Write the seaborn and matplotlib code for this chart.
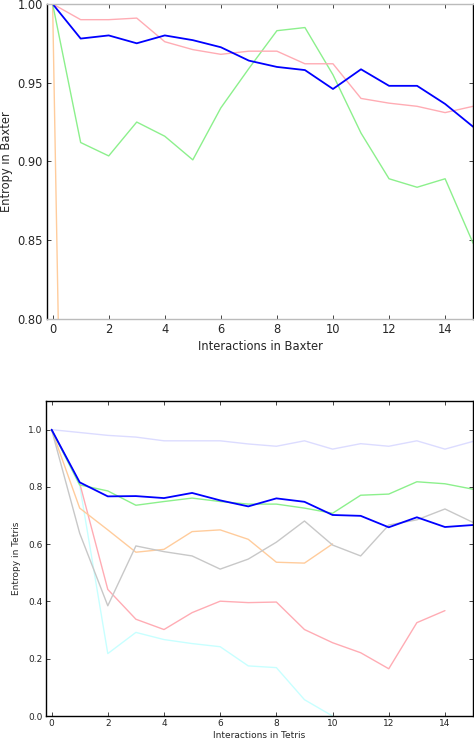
import numpy as np
import pandas as pd
import matplotlib
matplotlib.use("Agg")
import matplotlib.pyplot as plt
import seaborn as sns

# ===================== data =====================
# Baxter (top panel)
baxter_x = list(range(16))
baxter_blue = [1.000, 0.978, 0.980, 0.975, 0.980, 0.977, 0.9725, 0.964, 0.960,
               0.958, 0.946, 0.9585, 0.948, 0.948, 0.9365, 0.922]
baxter_pink = [1.000, 0.990, 0.990, 0.991, 0.976, 0.971, 0.968, 0.970, 0.970,
               0.962, 0.962, 0.940, 0.937, 0.935, 0.931, 0.935]
baxter_green = [1.000, 0.912, 0.9035, 0.925, 0.916, 0.901, 0.934, 0.959, 0.983,
                0.985, 0.955, 0.918, 0.889, 0.8836, 0.889, 0.848]
baxter_orange_x = [0, 1]
baxter_orange = [1.000, 0.000]

# Tetris (bottom panel)
tetris_x = list(range(16))
tetris_lavender = [1.000, 0.990, 0.980, 0.974, 0.961, 0.961, 0.961, 0.950, 0.942,
                   0.961, 0.932, 0.951, 0.942, 0.961, 0.932, 0.959]
tetris_green = [1.000, 0.807, 0.786, 0.736, 0.749, 0.761, 0.749, 0.740, 0.740,
                0.726, 0.708, 0.771, 0.775, 0.818, 0.811, 0.792]
tetris_blue = [1.000, 0.816, 0.767, 0.768, 0.761, 0.779, 0.753, 0.732, 0.760,
               0.748, 0.702, 0.699, 0.659, 0.694, 0.660, 0.667]
tetris_grey = [1.000, 0.638, 0.385, 0.594, 0.574, 0.559, 0.513, 0.548, 0.607,
               0.681, 0.597, 0.559, 0.667, 0.685, 0.723, 0.676]
tetris_orange_x = list(range(11))
tetris_orange = [1.000, 0.726, 0.650, 0.572, 0.582, 0.644, 0.650, 0.617, 0.537,
                 0.534, 0.601]
tetris_red_x = list(range(15))
tetris_red = [1.000, 0.813, 0.442, 0.338, 0.302, 0.361, 0.401, 0.396, 0.398,
              0.302, 0.256, 0.221, 0.165, 0.326, 0.368]
tetris_cyan_x = list(range(11))
tetris_cyan = [1.000, 0.805, 0.218, 0.292, 0.267, 0.253, 0.242, 0.175, 0.169,
               0.057, 0.000]

BLUE = "#0000ff"
PINK = "#ffacb4"
GREEN = "#8cf08c"
ORANGE = "#ffcc9c"
GREY = "#c8c8c8"
CYAN = "#c8ffff"
LAVENDER = "#dcdcff"

# ===================== style =====================
sns.set_style("ticks")
plt.rcParams["font.family"] = ["DejaVu Sans"]
plt.rcParams["xtick.direction"] = "in"
plt.rcParams["ytick.direction"] = "in"
plt.rcParams["xtick.top"] = True
plt.rcParams["ytick.right"] = True
plt.rcParams["axes.edgecolor"] = "black"
plt.rcParams["axes.linewidth"] = 1.0

fig = plt.figure(figsize=(4.74, 7.40), dpi=100)
ax1 = fig.add_axes([0.0992, 0.569, 0.899, 0.4257])
ax2 = fig.add_axes([0.0970, 0.0324, 0.901, 0.4257])


def draw(ax, x, y, color, lw=1.0):
    sns.lineplot(x=x, y=y, ax=ax, color=color, linewidth=lw, legend=False,
                 estimator=None, sort=False)


# ---- Baxter ----
draw(ax1, baxter_orange_x, baxter_orange, ORANGE)
draw(ax1, baxter_x, baxter_green, GREEN)
draw(ax1, baxter_x, baxter_pink, PINK)
draw(ax1, baxter_x, baxter_blue, BLUE, lw=1.3)
ax1.set_xlim(-0.2, 15)
ax1.set_ylim(0.80, 1.00)
ax1.set_xticks([0, 2, 4, 6, 8, 10, 12, 14])
ax1.set_yticks([0.80, 0.85, 0.90, 0.95, 1.00])
ax1.set_yticklabels(["0.80", "0.85", "0.90", "0.95", "1.00"])
ax1.tick_params(labelsize=8.3, length=3, width=0.6, pad=3)
ax1.set_xlabel("Interactions in Baxter", fontsize=8.3, labelpad=3)
ax1.set_ylabel("Entropy in Baxter", fontsize=8.3, labelpad=3)
ax1.spines["top"].set_color("#bbbbbb")
ax1.spines["bottom"].set_color("#bbbbbb")

# ---- Tetris ----
draw(ax2, tetris_x, tetris_lavender, LAVENDER)
draw(ax2, tetris_cyan_x, tetris_cyan, CYAN)
draw(ax2, tetris_red_x, tetris_red, PINK)
draw(ax2, tetris_orange_x, tetris_orange, ORANGE)
draw(ax2, tetris_x, tetris_grey, GREY)
draw(ax2, tetris_x, tetris_green, GREEN)
draw(ax2, tetris_x, tetris_blue, BLUE, lw=1.3)
ax2.set_xlim(-0.2, 15)
ax2.set_ylim(0.0, 1.1)
ax2.set_xticks([0, 2, 4, 6, 8, 10, 12, 14])
ax2.set_yticks([0.0, 0.2, 0.4, 0.6, 0.8, 1.0])
ax2.set_yticklabels(["0.0", "0.2", "0.4", "0.6", "0.8", "1.0"])
ax2.tick_params(labelsize=6.5, length=3, width=0.6, pad=2.5)
ax2.set_xlabel("Interactions in Tetris", fontsize=6.5, labelpad=1.5)
ax2.set_ylabel("Entropy in Tetris", fontsize=6.5, labelpad=5)

fig.savefig("out.png", dpi=100)
